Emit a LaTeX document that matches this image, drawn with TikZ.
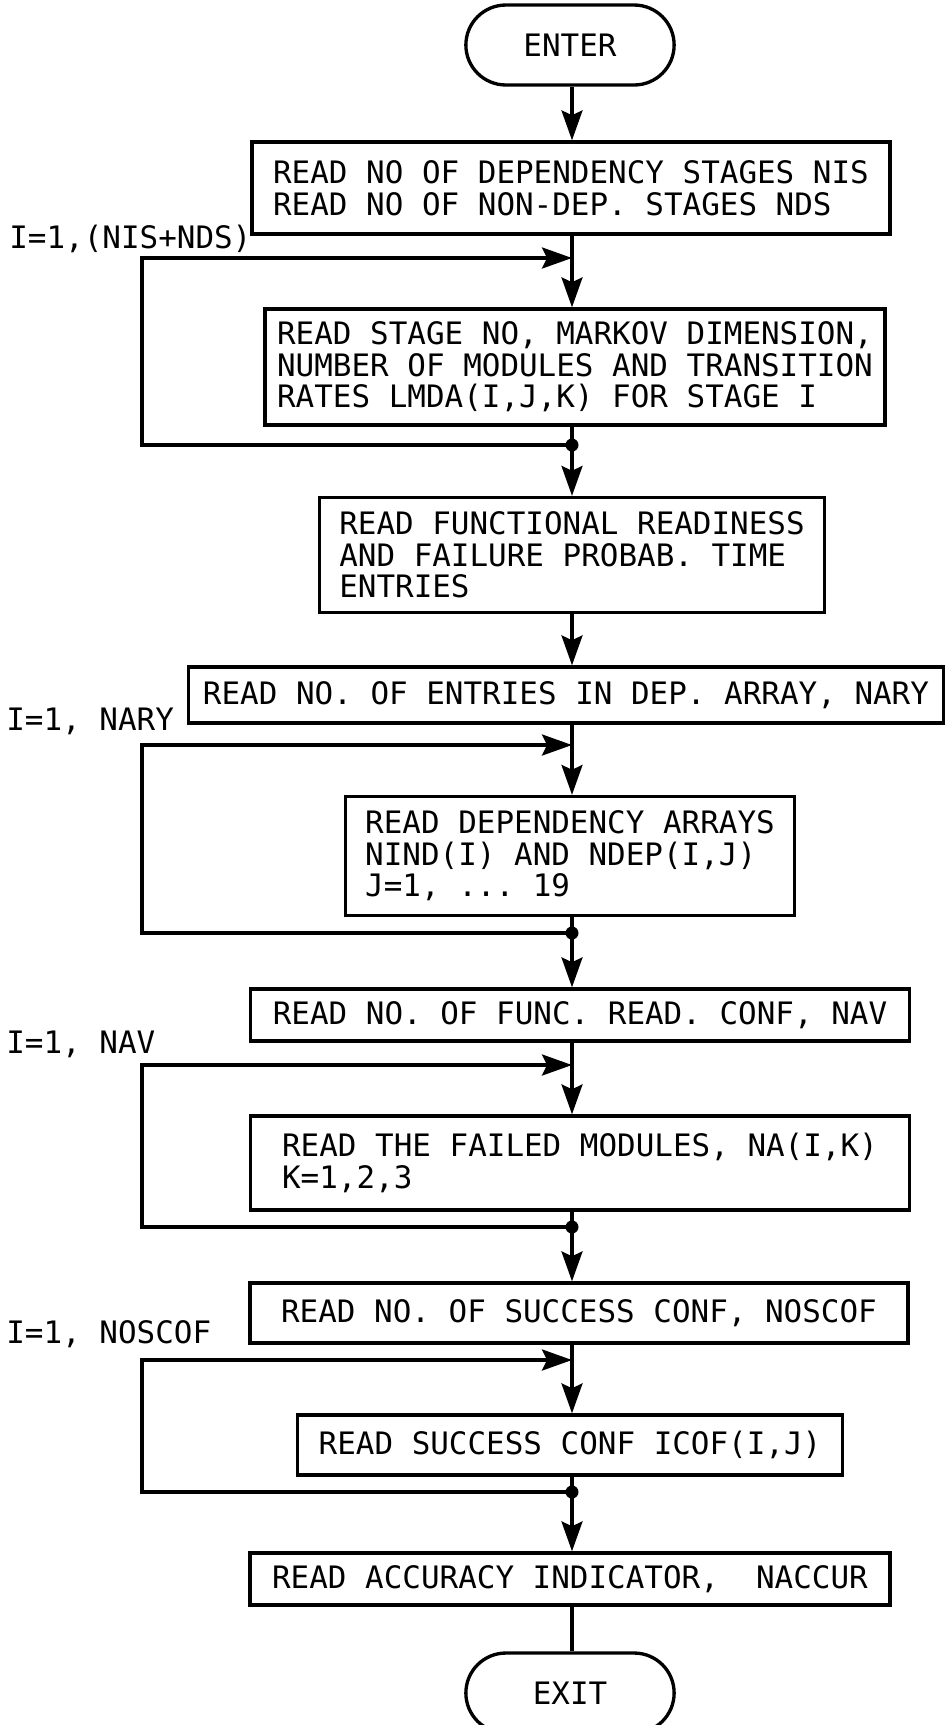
\documentclass[tikz,border=0pt]{standalone}
\usepackage{fontspec}
\setmonofont{DejaVu Sans Mono}
\usetikzlibrary{arrows.meta,shapes.misc}

\begin{document}
\begin{tikzpicture}[x=0.02cm, y=-0.02cm,
  stepbox/.style={draw, line width=1.9pt, inner sep=0.2cm, align=left,
                  font=\ttfamily\fontsize{17.6}{18}\selectfont},
  term/.style={draw, line width=1.9pt, rounded rectangle, minimum width=4.4cm, minimum height=1.6cm,
               font=\ttfamily\fontsize{17.6}{18}\selectfont},
  loopnote/.style={anchor=base west, inner sep=0pt, font=\ttfamily\fontsize{17.6}{18}\selectfont},
  flow/.style={line width=1.9pt},
  arr/.style={flow, -{Stealth[length=0.6cm, width=0.42cm, inset=0.1cm]}}]
  \useasboundingbox (0,0) rectangle (946,1725);
  \clip (0,0) rectangle (946,1725);
  \coordinate (ax) at (572,0);
  \coordinate (lx) at (142,0);
  \node[term] (enter) at (570,45) {ENTER};
  \node[stepbox, minimum width=12.76cm, minimum height=1.84cm] (stages) at (571,188)
    {READ NO OF DEPENDENCY STAGES NIS\\READ NO OF NON-DEP. STAGES NDS};
  \node[stepbox, minimum width=12.4cm, minimum height=2.32cm] (rates) at (575,367)
    {READ STAGE NO, MARKOV DIMENSION,\\NUMBER OF MODULES AND TRANSITION\\RATES LMDA(I,J,K) FOR STAGE I};
  \node[stepbox, minimum width=10.1cm, minimum height=2.3cm] (ready) at (572,555)
    {READ FUNCTIONAL READINESS\\AND FAILURE PROBAB. TIME\\ENTRIES};
  \node[stepbox, minimum width=15.1cm, minimum height=1.12cm] (nary) at (566,695)
    {READ NO. OF ENTRIES IN DEP. ARRAY, NARY};
  \node[stepbox, minimum width=8.98cm, minimum height=2.38cm] (deparr) at (570,856)
    {READ DEPENDENCY ARRAYS\\NIND(I) AND NDEP(I,J)\\J=1, ... 19};
  \node[stepbox, minimum width=13.18cm, minimum height=1.04cm] (nav) at (580,1015)
    {READ NO. OF FUNC. READ. CONF, NAV};
  \node[stepbox, minimum width=13.18cm, minimum height=1.88cm] (failed) at (580,1163)
    {READ THE FAILED MODULES, NA(I,K)\\K=1,2,3};
  \node[stepbox, minimum width=13.16cm, minimum height=1.2cm] (noscof) at (579,1313)
    {READ NO. OF SUCCESS CONF, NOSCOF};
  \node[stepbox, minimum width=10.9cm, minimum height=1.2cm] (icof) at (570,1445)
    {READ SUCCESS CONF ICOF(I,J)};
  \node[stepbox, minimum width=12.8cm, minimum height=1.04cm] (accur) at (570,1579)
    {READ ACCURACY INDICATOR,\ \ NACCUR};
  \node[term] (exit) at (570,1693) {EXIT};
  \node[loopnote] (lbl1) at (9,248) {I=1,(NIS+NDS)};
  \node[loopnote] (lbl2) at (6,730) {I=1, NARY};
  \node[loopnote] (lbl3) at (6,1053) {I=1, NAV};
  \node[loopnote] (lbl4) at (6,1343) {I=1, NOSCOF};
  \coordinate (in1) at (572,258);  \coordinate (out1) at (572,445);
  \coordinate (in2) at (572,745);  \coordinate (out2) at (572,933);
  \coordinate (in3) at (572,1065); \coordinate (out3) at (572,1227);
  \coordinate (in4) at (572,1360); \coordinate (out4) at (572,1492);
  \draw[arr] (enter.south -| ax) -- (stages.north -| ax);
  \draw[arr] (stages.south -| ax) -- (rates.north -| ax);
  \draw[flow] (rates.south -| ax) -- (out1);
  \draw[arr] (out1) -- (out1 -| lx) -- (in1 -| lx) -- (in1);
  \fill (out1) circle (0.13cm);
  \draw[arr] (out1) -- (ready.north -| ax);
  \draw[arr] (ready.south -| ax) -- (nary.north -| ax);
  \draw[arr] (nary.south -| ax) -- (deparr.north -| ax);
  \draw[flow] (deparr.south -| ax) -- (out2);
  \draw[arr] (out2) -- (out2 -| lx) -- (in2 -| lx) -- (in2);
  \fill (out2) circle (0.13cm);
  \draw[arr] (out2) -- (nav.north -| ax);
  \draw[arr] (nav.south -| ax) -- (failed.north -| ax);
  \draw[flow] (failed.south -| ax) -- (out3);
  \draw[arr] (out3) -- (out3 -| lx) -- (in3 -| lx) -- (in3);
  \fill (out3) circle (0.13cm);
  \draw[arr] (out3) -- (noscof.north -| ax);
  \draw[arr] (noscof.south -| ax) -- (icof.north -| ax);
  \draw[flow] (icof.south -| ax) -- (out4);
  \draw[arr] (out4) -- (out4 -| lx) -- (in4 -| lx) -- (in4);
  \fill (out4) circle (0.13cm);
  \draw[arr] (out4) -- (accur.north -| ax);
  \draw[flow] (accur.south -| ax) -- (exit.north -| ax);
\end{tikzpicture}
\end{document}
